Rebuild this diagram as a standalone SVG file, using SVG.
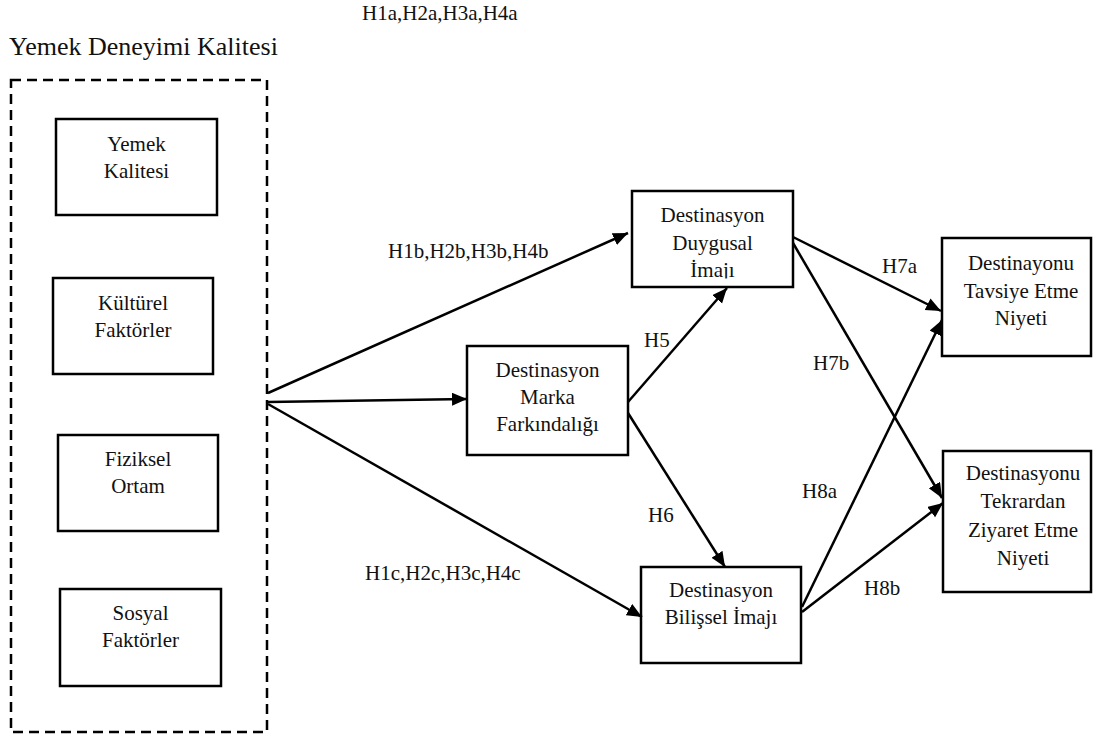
<svg xmlns="http://www.w3.org/2000/svg" width="1097" height="737" viewBox="0 0 1097 737">
<style>
.box{fill:#fff;stroke:#000;stroke-width:2.5}
.dash{fill:none;stroke:#000;stroke-width:2.5;stroke-dasharray:10 6}
text{font-family:'Liberation Serif',Times,'DejaVu Serif',serif;fill:#111}
.t{font-size:21px;text-anchor:middle}
.l{font-size:21px}
.title{font-size:26px}
.c{stroke:#000;stroke-width:2.5;fill:none;marker-end:url(#ah)}
</style>
<defs>
<marker id="ah" markerUnits="userSpaceOnUse" markerWidth="16" markerHeight="14" refX="15" refY="6.5" orient="auto">
<path d="M0,0 L15,6.5 L0,13 z" fill="#000"/>
</marker>
<clipPath id="clipDuy"><rect x="633" y="192" width="159" height="86.5"/></clipPath>
</defs>
<rect width="1097" height="737" fill="#fff"/>

<text class="l" x="362" y="20">H1a,H2a,H3a,H4a</text>
<text class="title" x="9" y="55">Yemek Deneyimi Kalitesi</text>

<g id="container">
<rect class="dash" x="11" y="80" width="256" height="652"/>
</g>

<g id="yemek-kalitesi">
<rect class="box" x="56" y="119" width="161" height="96"/>
<text class="t" x="136.5" y="151">Yemek</text>
<text class="t" x="136.5" y="178">Kalitesi</text>
</g>
<g id="kulturel-faktorler">
<rect class="box" x="53" y="278" width="160" height="96"/>
<text class="t" x="133" y="310">Kültürel</text>
<text class="t" x="133" y="337">Faktörler</text>
</g>
<g id="fiziksel-ortam">
<rect class="box" x="58" y="435" width="160" height="96"/>
<text class="t" x="138" y="466">Fiziksel</text>
<text class="t" x="138" y="493">Ortam</text>
</g>
<g id="sosyal-faktorler">
<rect class="box" x="60" y="589" width="161" height="97"/>
<text class="t" x="140.5" y="620">Sosyal</text>
<text class="t" x="140.5" y="647">Faktörler</text>
</g>

<g id="marka-farkindaligi">
<rect class="box" x="467" y="346" width="161" height="109"/>
<text class="t" x="547.5" y="377">Destinasyon</text>
<text class="t" x="547.5" y="404">Marka</text>
<text class="t" x="547.5" y="431">Farkındalığı</text>
</g>
<g id="duygusal-imaji">
<rect class="box" x="632" y="191" width="161" height="96"/>
<g clip-path="url(#clipDuy)">
<text class="t" x="712.5" y="222">Destinasyon</text>
<text class="t" x="712.5" y="250">Duygusal</text>
<text class="t" x="712.5" y="277">İmajı</text>
</g>
</g>
<g id="bilissel-imaji">
<rect class="box" x="641" y="567" width="160" height="96"/>
<text class="t" x="721" y="597">Destinasyon</text>
<text class="t" x="721" y="624">Bilişsel İmajı</text>
</g>
<g id="tavsiye-niyeti">
<rect class="box" x="942" y="238" width="149" height="118"/>
<text class="t" x="1021" y="270">Destinayonu</text>
<text class="t" x="1021" y="298">Tavsiye Etme</text>
<text class="t" x="1021" y="325">Niyeti</text>
</g>
<g id="ziyaret-niyeti">
<rect class="box" x="943" y="451" width="148" height="141"/>
<text class="t" x="1023" y="480">Destinasyonu</text>
<text class="t" x="1023" y="508">Tekrardan</text>
<text class="t" x="1023" y="537">Ziyaret Etme</text>
<text class="t" x="1023" y="565">Niyeti</text>
</g>

<g id="connectors">
<line class="c" x1="268" y1="393" x2="628" y2="233"/>
<line class="c" x1="268" y1="402" x2="467" y2="399"/>
<line class="c" x1="268" y1="404" x2="642" y2="617"/>
<line class="c" x1="628" y1="402" x2="727" y2="288"/>
<line class="c" x1="628" y1="413" x2="725" y2="567"/>
<line class="c" x1="793" y1="237" x2="941" y2="311"/>
<line class="c" x1="793" y1="243" x2="942" y2="498"/>
<line class="c" x1="802" y1="607" x2="942" y2="320"/>
<line class="c" x1="802" y1="612" x2="943" y2="503"/>
</g>

<g id="labels">
<text class="l" x="388" y="258">H1b,H2b,H3b,H4b</text>
<text class="l" x="365" y="580">H1c,H2c,H3c,H4c</text>
<text class="l" x="644" y="347">H5</text>
<text class="l" x="648" y="522">H6</text>
<text class="l" x="882" y="273">H7a</text>
<text class="l" x="813" y="370">H7b</text>
<text class="l" x="802" y="498">H8a</text>
<text class="l" x="864" y="595">H8b</text>
</g>
</svg>
